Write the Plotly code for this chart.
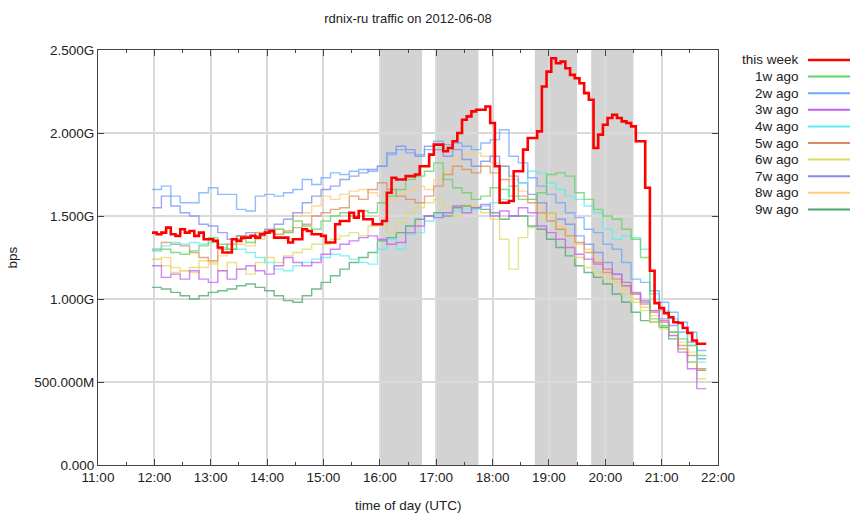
import pandas as pd
import plotly.graph_objects as go

TITLE = "rdnix-ru traffic on 2012-06-08"
DAY = "2012-06-08"

# this week: 5-minute samples (Gbps), starting 11:57:30
this_week = [
    1.40, 1.39, 1.40, 1.43, 1.39, 1.38, 1.42, 1.40, 1.41, 1.38,
    1.40, 1.36, 1.36, 1.35, 1.31, 1.28, 1.28, 1.36, 1.35, 1.37,
    1.37, 1.38, 1.37, 1.39, 1.40, 1.41, 1.37, 1.37, 1.37, 1.34,
    1.36, 1.36, 1.42, 1.41, 1.39, 1.39, 1.38, 1.34, 1.34, 1.45,
    1.47, 1.47, 1.52, 1.49, 1.53, 1.48, 1.48, 1.45, 1.45, 1.47,
    1.64, 1.73, 1.72, 1.72, 1.74, 1.74, 1.75, 1.80, 1.80, 1.87,
    1.93, 1.93, 1.89, 1.91, 1.95, 2.00, 2.08, 2.10, 2.13, 2.14,
    2.14, 2.16, 2.06, 1.80, 1.58, 1.58, 1.59, 1.77, 1.77, 1.90,
    1.97, 1.97, 2.01, 2.28, 2.37, 2.45, 2.42, 2.43, 2.39, 2.35,
    2.33, 2.30, 2.24, 2.20, 1.91, 1.99, 2.05, 2.09, 2.11, 2.09,
    2.07, 2.06, 2.04, 1.95, 1.95, 1.67, 1.17, 0.975, 0.945, 0.915,
    0.89, 0.86, 0.855, 0.825, 0.795, 0.75, 0.73, 0.73,
]

# previous weeks: 10-minute samples (Gbps), starting 11:57:30
w1 = [
    1.29, 1.30, 1.28, 1.27, 1.29, 1.32, 1.37, 1.33, 1.30, 1.36,
    1.34, 1.38, 1.40, 1.42, 1.40, 1.47, 1.44, 1.42, 1.47, 1.50,
    1.52, 1.50, 1.53, 1.52, 1.58, 1.62, 1.66, 1.72, 1.74, 1.77,
    1.82, 1.72, 1.67, 1.64, 1.60, 1.62, 1.67, 1.66, 1.62, 1.60,
    1.60, 1.64, 1.75, 1.76, 1.74, 1.64, 1.60, 1.54, 1.50, 1.48,
    1.42, 1.36, 1.25, 0.88, 0.84, 0.80, 0.76, 0.72, 0.66,
]
w2 = [
    1.66, 1.68, 1.62, 1.58, 1.58, 1.64, 1.67, 1.63, 1.63, 1.54,
    1.53, 1.62, 1.63, 1.62, 1.64, 1.66, 1.72, 1.69, 1.73, 1.76,
    1.75, 1.77, 1.78, 1.77, 1.80, 1.87, 1.90, 1.88, 1.87, 1.90,
    1.95, 1.93, 1.94, 1.92, 1.90, 1.94, 1.96, 2.02, 1.86, 1.82,
    1.73, 1.68, 1.63, 1.58, 1.52, 1.49, 1.42, 1.40, 1.33, 1.30,
    1.22, 1.12, 1.10, 1.05, 0.98, 0.92, 0.86, 0.80, 0.69,
]
w3 = [
    1.20, 1.13, 1.15, 1.12, 1.17, 1.12, 1.10, 1.17, 1.12, 1.18,
    1.20, 1.17, 1.15, 1.20, 1.25, 1.22, 1.20, 1.22, 1.27, 1.30,
    1.33, 1.35, 1.37, 1.38, 1.36, 1.33, 1.34, 1.40, 1.44, 1.50,
    1.49, 1.52, 1.56, 1.52, 1.55, 1.57, 1.50, 1.53, 1.50, 1.55,
    1.52, 1.44, 1.40, 1.36, 1.31, 1.27, 1.24, 1.21, 1.18, 1.15,
    1.10, 1.04, 0.99, 0.93, 0.87, 0.78, 0.68, 0.58, 0.46,
]
w4 = [
    1.30, 1.32, 1.34, 1.33, 1.34, 1.33, 1.34, 1.31, 1.30, 1.30,
    1.28, 1.25, 1.22, 1.18, 1.17, 1.20, 1.22, 1.24, 1.25, 1.27,
    1.26, 1.24, 1.22, 1.21, 1.30, 1.36, 1.30, 1.39, 1.40, 1.47,
    1.50, 1.52, 1.53, 1.54, 1.54, 1.56, 1.58, 1.60, 1.68, 1.70,
    1.77, 1.76, 1.70, 1.66, 1.62, 1.60, 1.56, 1.52, 1.42, 1.36,
    1.38, 1.37, 1.30, 1.03, 0.93, 0.88, 0.80, 0.72, 0.62,
]
w5 = [
    1.30, 1.34, 1.33, 1.32, 1.28, 1.25, 1.23, 1.30, 1.33, 1.38,
    1.38, 1.40, 1.41, 1.39, 1.41, 1.43, 1.45, 1.50, 1.52, 1.54,
    1.55, 1.62, 1.60, 1.66, 1.70, 1.66, 1.62, 1.60, 1.58, 1.62,
    1.68, 1.75, 1.80, 1.78, 1.76, 1.80, 1.76, 1.72, 1.68, 1.62,
    1.58, 1.52, 1.47, 1.42, 1.38, 1.34, 1.28, 1.22, 1.16, 1.12,
    1.08, 1.03, 0.97, 0.92, 0.86, 0.80, 0.72, 0.66, 0.58,
]
w6 = [
    1.24, 1.20, 1.16, 1.17, 1.19, 1.23, 1.22, 1.17, 1.22, 1.18,
    1.15, 1.22, 1.25, 1.22, 1.26, 1.28, 1.30, 1.33, 1.33, 1.36,
    1.38, 1.40, 1.38, 1.44, 1.45, 1.40, 1.46, 1.52, 1.55, 1.58,
    1.60, 1.55, 1.50, 1.57, 1.56, 1.52, 1.48, 1.36, 1.18, 1.37,
    1.43, 1.50, 1.52, 1.42, 1.31, 1.25, 1.19, 1.16, 1.12, 1.10,
    1.03, 0.98, 0.93, 0.86, 0.82, 0.78, 0.70, 0.62, 0.52,
]
w7 = [
    1.55, 1.62, 1.56, 1.52, 1.50, 1.45, 1.44, 1.40, 1.36, 1.38,
    1.40, 1.38, 1.42, 1.45, 1.48, 1.52, 1.58, 1.62, 1.66, 1.68,
    1.72, 1.74, 1.76, 1.78, 1.80, 1.88, 1.92, 1.90, 1.86, 1.92,
    1.90, 1.86, 1.90, 1.84, 1.80, 1.83, 1.86, 1.80, 1.74, 1.70,
    1.63, 1.58, 1.52, 1.48, 1.45, 1.38, 1.33, 1.28, 1.22, 1.15,
    1.08, 1.03, 0.98, 0.93, 0.88, 0.84, 0.80, 0.74, 0.64,
]
w8 = [
    1.24, 1.25, 1.19, 1.17, 1.16, 1.19, 1.21, 1.26, 1.30, 1.33,
    1.32, 1.36, 1.40, 1.42, 1.40, 1.50, 1.52, 1.56, 1.62, 1.60,
    1.63, 1.65, 1.66, 1.64, 1.62, 1.60, 1.63, 1.65, 1.68, 1.66,
    1.72, 1.76, 1.84, 1.87, 1.88, 1.86, 1.82, 1.80, 1.72, 1.65,
    1.60, 1.55, 1.50, 1.44, 1.38, 1.33, 1.30, 1.24, 1.17, 1.12,
    1.06, 1.00, 0.95, 0.90, 0.86, 0.80, 0.74, 0.68, 0.58,
]
w9 = [
    1.07, 1.06, 1.04, 1.02, 1.00, 1.02, 1.04, 1.05, 1.06, 1.08,
    1.09, 1.07, 1.05, 1.02, 0.99, 0.98, 1.02, 1.06, 1.10, 1.14,
    1.18, 1.22, 1.25, 1.28, 1.35, 1.37, 1.40, 1.44, 1.48, 1.50,
    1.52, 1.50, 1.55, 1.56, 1.55, 1.54, 1.52, 1.48, 1.50, 1.50,
    1.44, 1.42, 1.36, 1.31, 1.26, 1.20, 1.16, 1.13, 1.09, 1.03,
    0.98, 0.92, 0.87, 0.86, 0.83, 0.76, 0.70, 0.62, 0.57,
]

series_names = ["this week", "1w ago", "2w ago", "3w ago", "4w ago",
                "5w ago", "6w ago", "7w ago", "8w ago", "9w ago"]
series_values = [this_week, w1, w2, w3, w4, w5, w6, w7, w8, w9]
series_colors = ["#ff0000", "#5fd35f", "#6aa8ff", "#c45cf5", "#5ceeee",
                 "#dc8c5c", "#dcdc64", "#7c8cee", "#ffcc78", "#46a66a"]

# highlighted periods
bands = [("16:00", "16:45"), ("17:00", "17:45"),
         ("18:45", "19:30"), ("19:45", "20:30")]

y_tickvals = [0, 0.5e9, 1.0e9, 1.5e9, 2.0e9, 2.5e9]
y_ticktext = ["0.000", "500.000M", "1.000G", "1.500G", "2.000G", "2.500G"]

FONT = "Liberation Sans, Arial, Helvetica, sans-serif"

fig = go.Figure()

start = pd.Timestamp(DAY + " 11:57:30")
order = list(range(len(series_names)))[1:][::-1] + [0]
for i in order:
    vals = series_values[i]
    step = pd.Timedelta(minutes=5 if i == 0 else 10)
    t = pd.date_range(start, periods=len(vals), freq=step)
    xs = list(t) + [t[-1] + step]
    ys = [v * 1e9 for v in vals] + [vals[-1] * 1e9]
    fig.add_trace(go.Scatter(
        x=xs, y=ys, mode="lines", name=series_names[i],
        line=dict(shape="hv", color=series_colors[i], width=2.6 if i == 0 else 1.4),
        opacity=1.0 if i == 0 else 0.75,
        showlegend=False, hoverinfo="skip",
    ))

shapes = []
for a, b in bands:
    shapes.append(dict(type="rect", xref="x", yref="paper",
                       x0=f"{DAY} {a}", x1=f"{DAY} {b}", y0=0, y1=1,
                       fillcolor="#d3d3d3", line=dict(width=0), layer="between"))

# custom legend (text to the left of the sample line)
L, R, T, B = 98, 718, 50, 465
W, H = R - L, B - T
annotations = []
for i, name in enumerate(series_names):
    py = 60 + i * 16.6
    yp = (B - py) / H
    annotations.append(dict(text=name, xref="paper", yref="paper",
                            x=(801 - L) / W, y=yp, xanchor="right", yanchor="middle",
                            showarrow=False, font=dict(family=FONT, size=13.5, color="#222")))
    shapes.append(dict(type="line", xref="paper", yref="paper",
                       x0=(808 - L) / W, x1=(850 - L) / W, y0=yp, y1=yp,
                       line=dict(color=series_colors[i], width=2.6 if i == 0 else 2)))

annotations.append(dict(text="bps", xref="paper", yref="paper",
                        x=(12 - L) / W, y=0.5, textangle=-90,
                        xanchor="center", yanchor="middle", showarrow=False,
                        font=dict(family=FONT, size=13.5, color="#222")))
annotations.append(dict(text="time of day (UTC)", xref="paper", yref="paper",
                        x=0.5, y=(B - 505) / H, xanchor="center", yanchor="middle",
                        showarrow=False, font=dict(family=FONT, size=13.5, color="#222")))

axis_common = dict(showline=True, linecolor="#444", linewidth=1, mirror="allticks",
                   ticks="inside", ticklen=6, tickcolor="#444", tickwidth=1,
                   showgrid=True, gridcolor="#dadada", gridwidth=1.5, zeroline=False,
                   tickfont=dict(family=FONT, size=13.5, color="#222"))

fig.update_layout(
    width=867, height=520,
    margin=dict(l=L, r=867 - R, t=T, b=520 - B),
    paper_bgcolor="white", plot_bgcolor="white",
    font=dict(family=FONT, size=13.5, color="#222"),
    title=dict(text=TITLE, x=0.5, xref="paper", xanchor="center",
               y=1 - 18 / 520, yref="container", yanchor="middle",
               font=dict(family=FONT, size=13, color="#222")),
    shapes=shapes, annotations=annotations, showlegend=False,
    xaxis=dict(type="date", range=[f"{DAY} 11:00", f"{DAY} 22:00"],
               tickmode="linear", tick0=f"{DAY} 11:00", dtick=3600000,
               tickformat="%H:%M",
               minor=dict(ticks="inside", ticklen=3, tickcolor="#444",
                          dtick=1800000, tick0=f"{DAY} 11:00", showgrid=False),
               **axis_common),
    yaxis=dict(range=[0, 2.5e9], tickmode="array",
               tickvals=y_tickvals, ticktext=y_ticktext, **axis_common),
)

fig.write_html("out.html")
